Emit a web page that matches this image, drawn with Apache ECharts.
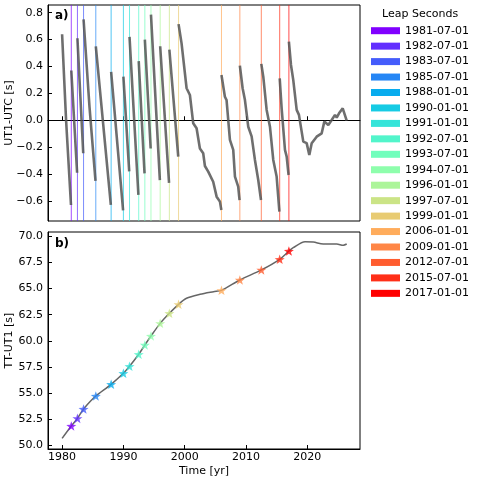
<!DOCTYPE html>
<html>
<head>
<meta charset="utf-8">
<script src="https://cdn.jsdelivr.net/npm/echarts@6/dist/echarts.min.js"></script>
<style>
  html, body { margin: 0; padding: 0; background: #fff; }
  #chart { width: 480px; height: 480px; }
</style>
</head>
<body>
<div id="chart"></div>
<script>
// leap seconds
const leapDates = ['1981-07-01', '1982-07-01', '1983-07-01', '1985-07-01', '1988-01-01', '1990-01-01',
  '1991-01-01', '1992-07-01', '1993-07-01', '1994-07-01', '1996-01-01', '1997-07-01', '1999-01-01',
  '2006-01-01', '2009-01-01', '2012-07-01', '2015-07-01', '2017-01-01'];
const leapYears = [1981.5, 1982.5, 1983.5, 1985.5, 1988.0, 1990.0, 1991.0, 1992.5, 1993.5, 1994.5,
  1996.0, 1997.5, 1999.0, 2006.0, 2009.0, 2012.5, 2015.5, 2017.0];
const leapColors = ['#8000ff', '#622ffe', '#445cfb', '#2686f5', '#08acee', '#16cbe4', '#35e4d9',
  '#52f5cb', '#71febc', '#8efeac', '#acf59a', '#cbe486', '#e8cb72', '#ffac5c', '#ff8646',
  '#ff5c2f', '#ff2f18', '#ff0000'];
// TT-UT1 at each leap second
const leapTTUT1 = [51.85, 52.58, 53.47, 54.72, 55.84, 56.89, 57.56, 58.71, 59.6, 60.46,
  61.67, 62.63, 63.49, 64.83, 65.82, 66.78, 67.8, 68.59];

// UT1-UTC, one array per segment between leap seconds
const utcSegments = [
  [[1980.0, 0.64], [1980.65, 0.0], [1981.45, -0.63]],
  [[1981.5, 0.37], [1982.45, -0.39]],
  [[1982.5, 0.61], [1983.45, -0.245]],
  [[1983.5, 0.75], [1984.47, 0.1], [1985.45, -0.45]],
  [[1985.5, 0.55], [1987.95, -0.63]],
  [[1988.0, 0.36], [1989.95, -0.67]],
  [[1990.0, 0.325], [1990.95, -0.38]],
  [[1991.0, 0.62], [1992.45, -0.555]],
  [[1992.5, 0.44], [1993.45, -0.395]],
  [[1993.5, 0.60], [1994.45, -0.21]],
  [[1994.5, 0.785], [1995.95, -0.445]],
  [[1996.0, 0.55], [1997.45, -0.465]],
  [[1997.5, 0.525], [1998.95, -0.27]],
  [[1999.0, 0.715], [1999.49, 0.572], [2000.31, 0.238], [2000.85, 0.188], [2001.39, -0.022],
   [2001.94, -0.06], [2002.48, -0.21], [2003.02, -0.245], [2003.3, -0.34], [2003.84, -0.382],
   [2004.65, -0.457], [2005.21, -0.568], [2005.75, -0.605], [2005.98, -0.667]],
  [[2006.0, 0.337], [2006.56, 0.175], [2006.83, 0.15], [2007.38, -0.146], [2007.92, -0.22],
   [2008.2, -0.419], [2008.73, -0.494], [2008.95, -0.593]],
  [[2009.0, 0.406], [2009.45, 0.238], [2009.83, 0.15], [2010.37, -0.048], [2010.92, -0.12],
   [2011.46, -0.295], [2012.0, -0.444], [2012.45, -0.593]],
  [[2012.5, 0.419], [2012.82, 0.324], [2013.37, 0.077], [2013.91, -0.048], [2014.45, -0.295],
   [2015.0, -0.419], [2015.45, -0.68]],
  [[2015.5, 0.312], [2015.82, 0.086], [2016.36, -0.22], [2016.64, -0.27], [2016.95, -0.407]],
  [[2017.0, 0.584], [2017.34, 0.411], [2017.71, 0.30], [2018.27, 0.077], [2018.64, 0.04],
   [2019.35, -0.159], [2019.9, -0.17], [2020.33, -0.258], [2020.72, -0.171], [2021.53, -0.122],
   [2022.35, -0.097], [2022.78, -0.01], [2023.43, -0.035], [2023.98, 0.002], [2024.52, 0.04],
   [2024.8, 0.02], [2025.18, 0.052], [2025.78, 0.089], [2026.43, -0.003]]
];

// TT-UT1 curve
const ttYears = [1980.0, 1981.5, 1982.5, 1983.5, 1984.5, 1985.5, 1988.0, 1990.0, 1991.0, 1992.5,
  1993.5, 1994.5, 1996.0, 1997.5, 1999.0, 2000.3, 2002.5, 2004.7, 2006.0, 2009.0, 2012.5,
  2015.5, 2017.0, 2017.71, 2019.63, 2020.98, 2022.61, 2024.8, 2025.88, 2026.43];
const ttValues = [50.67, 51.85, 52.58, 53.47, 54.15, 54.72, 55.84, 56.89, 57.56, 58.71,
  59.6, 60.46, 61.67, 62.63, 63.49, 64.07, 64.45, 64.7, 64.83, 65.82, 66.78,
  67.8, 68.59, 68.91, 69.48, 69.45, 69.26, 69.26, 69.14, 69.26];

const xTicks = [1980, 1990, 2000, 2010, 2020];
const utcTicks = [-0.6, -0.4, -0.2, 0.0, 0.2, 0.4, 0.6, 0.8];
const ttTicks = [50, 52.5, 55, 57.5, 60, 62.5, 65, 67.5, 70];

const xMin = 1977.7, xMax = 2028.6;
const utcMin = -0.749, utcMax = 0.857;
const ttMin = 49.65, ttMax = 70.41;

const font = 'DejaVu Sans';
const fmt = v => v.toFixed(1).replace('-', '\u2212');

let chart = echarts.init(document.getElementById('chart'));

// flatten segments with null breaks
const utcData = [];
utcSegments.forEach((seg, i) => {
  if (i > 0) utcData.push([seg[0][0] - 0.001, null]);
  seg.forEach(p => utcData.push(p));
});

const starPath = 'path://M0,-10L2.35,-3.24L9.51,-3.09L3.8,1.24L5.88,8.09L0,4L-5.88,8.09L-3.8,1.24L-9.51,-3.09L-2.35,-3.24Z';

let series = [];
// stars first so legend picks them up
leapDates.forEach((d, i) => {
  series.push({
    name: d,
    type: 'scatter',
    xAxisIndex: 1,
    yAxisIndex: 1,
    data: [[leapYears[i], leapTTUT1[i]]],
    symbol: starPath,
    symbolSize: 10,
    symbolKeepAspect: true,
    itemStyle: { color: leapColors[i], opacity: 0.8 },
    z: 5
  });
});
leapDates.forEach((d, i) => {
  series.push({
    name: d,
    type: 'line',
    xAxisIndex: 0,
    yAxisIndex: 0,
    data: [[leapYears[i], utcMin], [leapYears[i], utcMax]],
    showSymbol: false,
    symbol: 'none',
    silent: true,
    lineStyle: { color: leapColors[i], width: 1, opacity: 0.7 },
    itemStyle: { color: leapColors[i] },
    z: 1
  });
});
series.push({
  type: 'line',
  xAxisIndex: 0,
  yAxisIndex: 0,
  data: utcData,
  showSymbol: false,
  connectNulls: false,
  lineStyle: { color: '#555', width: 2.6, opacity: 0.85 },
  z: 3
});
series.push({
  type: 'line',
  xAxisIndex: 1,
  yAxisIndex: 1,
  data: ttYears.map((y, i) => [y, ttValues[i]]),
  showSymbol: false,
  smooth: 0.3,
  lineStyle: { color: '#666', width: 1.5 },
  z: 3
});

const axisCommon = {
  axisLine: { show: true, lineStyle: { color: '#000', width: 1 } },
  axisTick: { show: true, inside: true, length: 4, lineStyle: { color: '#000' } },
  splitLine: { show: false },
  axisLabel: { color: '#000', fontFamily: font, fontSize: 11 }
};

let option = {
  animation: false,
  textStyle: { fontFamily: font },
  grid: [
    { left: 48, top: 5, width: 312, height: 216, show: true, borderColor: '#000', borderWidth: 1, outerBoundsMode: 'none' },
    { left: 48, top: 232, width: 312, height: 217, show: true, borderColor: '#000', borderWidth: 1, outerBoundsMode: 'none' }
  ],
  xAxis: [
    Object.assign({}, axisCommon, {
      type: 'value', gridIndex: 0, min: xMin, max: xMax,
      axisTick: { show: true, inside: true, length: 4, customValues: xTicks, lineStyle: { color: '#000' } },
      axisLabel: { show: false, customValues: xTicks }
    }),
    Object.assign({}, axisCommon, {
      type: 'value', gridIndex: 1, min: xMin, max: xMax,
      name: 'Time [yr]', nameLocation: 'middle', nameGap: 17, nameMoveOverlap: false,
      nameTextStyle: { color: '#000', fontFamily: font, fontSize: 11 },
      axisTick: { show: true, inside: true, length: 4, customValues: xTicks, lineStyle: { color: '#000' } },
      axisLabel: { color: '#000', fontFamily: font, fontSize: 11, margin: 3, customValues: xTicks, formatter: v => String(v) }
    })
  ],
  yAxis: [
    Object.assign({}, axisCommon, {
      type: 'value', gridIndex: 0, min: utcMin, max: utcMax,
      name: 'UT1-UTC [s]', nameLocation: 'middle', nameGap: 33, nameMoveOverlap: false,
      nameTextStyle: { color: '#000', fontFamily: font, fontSize: 11 },
      axisTick: { show: true, inside: true, length: 4, customValues: utcTicks, lineStyle: { color: '#000' } },
      axisLabel: { color: '#000', fontFamily: font, fontSize: 11, margin: 5, customValues: utcTicks, formatter: fmt }
    }),
    Object.assign({}, axisCommon, {
      type: 'value', gridIndex: 1, min: ttMin, max: ttMax,
      name: 'TT-UT1 [s]', nameLocation: 'middle', nameGap: 33, nameMoveOverlap: false,
      nameTextStyle: { color: '#000', fontFamily: font, fontSize: 11 },
      axisTick: { show: true, inside: true, length: 4, customValues: ttTicks, lineStyle: { color: '#000' } },
      axisLabel: { color: '#000', fontFamily: font, fontSize: 11, margin: 5, customValues: ttTicks, formatter: fmt }
    })
  ],
  legend: {
    data: leapDates,
    orient: 'vertical',
    left: 371,
    top: 25.2,
    padding: 0,
    icon: 'rect',
    itemWidth: 29,
    itemHeight: 7,
    itemGap: 4.45,
    itemStyle: { opacity: 1 },
    selectedMode: false,
    textStyle: { color: '#000', fontFamily: font, fontSize: 11, lineHeight: 11 }
  },
  graphic: [
    { type: 'text', left: 55, top: 10, style: { text: 'a)', font: 'bold 12px "DejaVu Sans"', fill: '#000' } },
    { type: 'text', left: 55, top: 238, style: { text: 'b)', font: 'bold 12px "DejaVu Sans"', fill: '#000' } },
    { type: 'text', left: 382, top: 9, style: { text: 'Leap Seconds', font: '11px "DejaVu Sans"', fill: '#000' } }
  ],
  series: series
};
chart.setOption(option);
</script>
</body>
</html>
